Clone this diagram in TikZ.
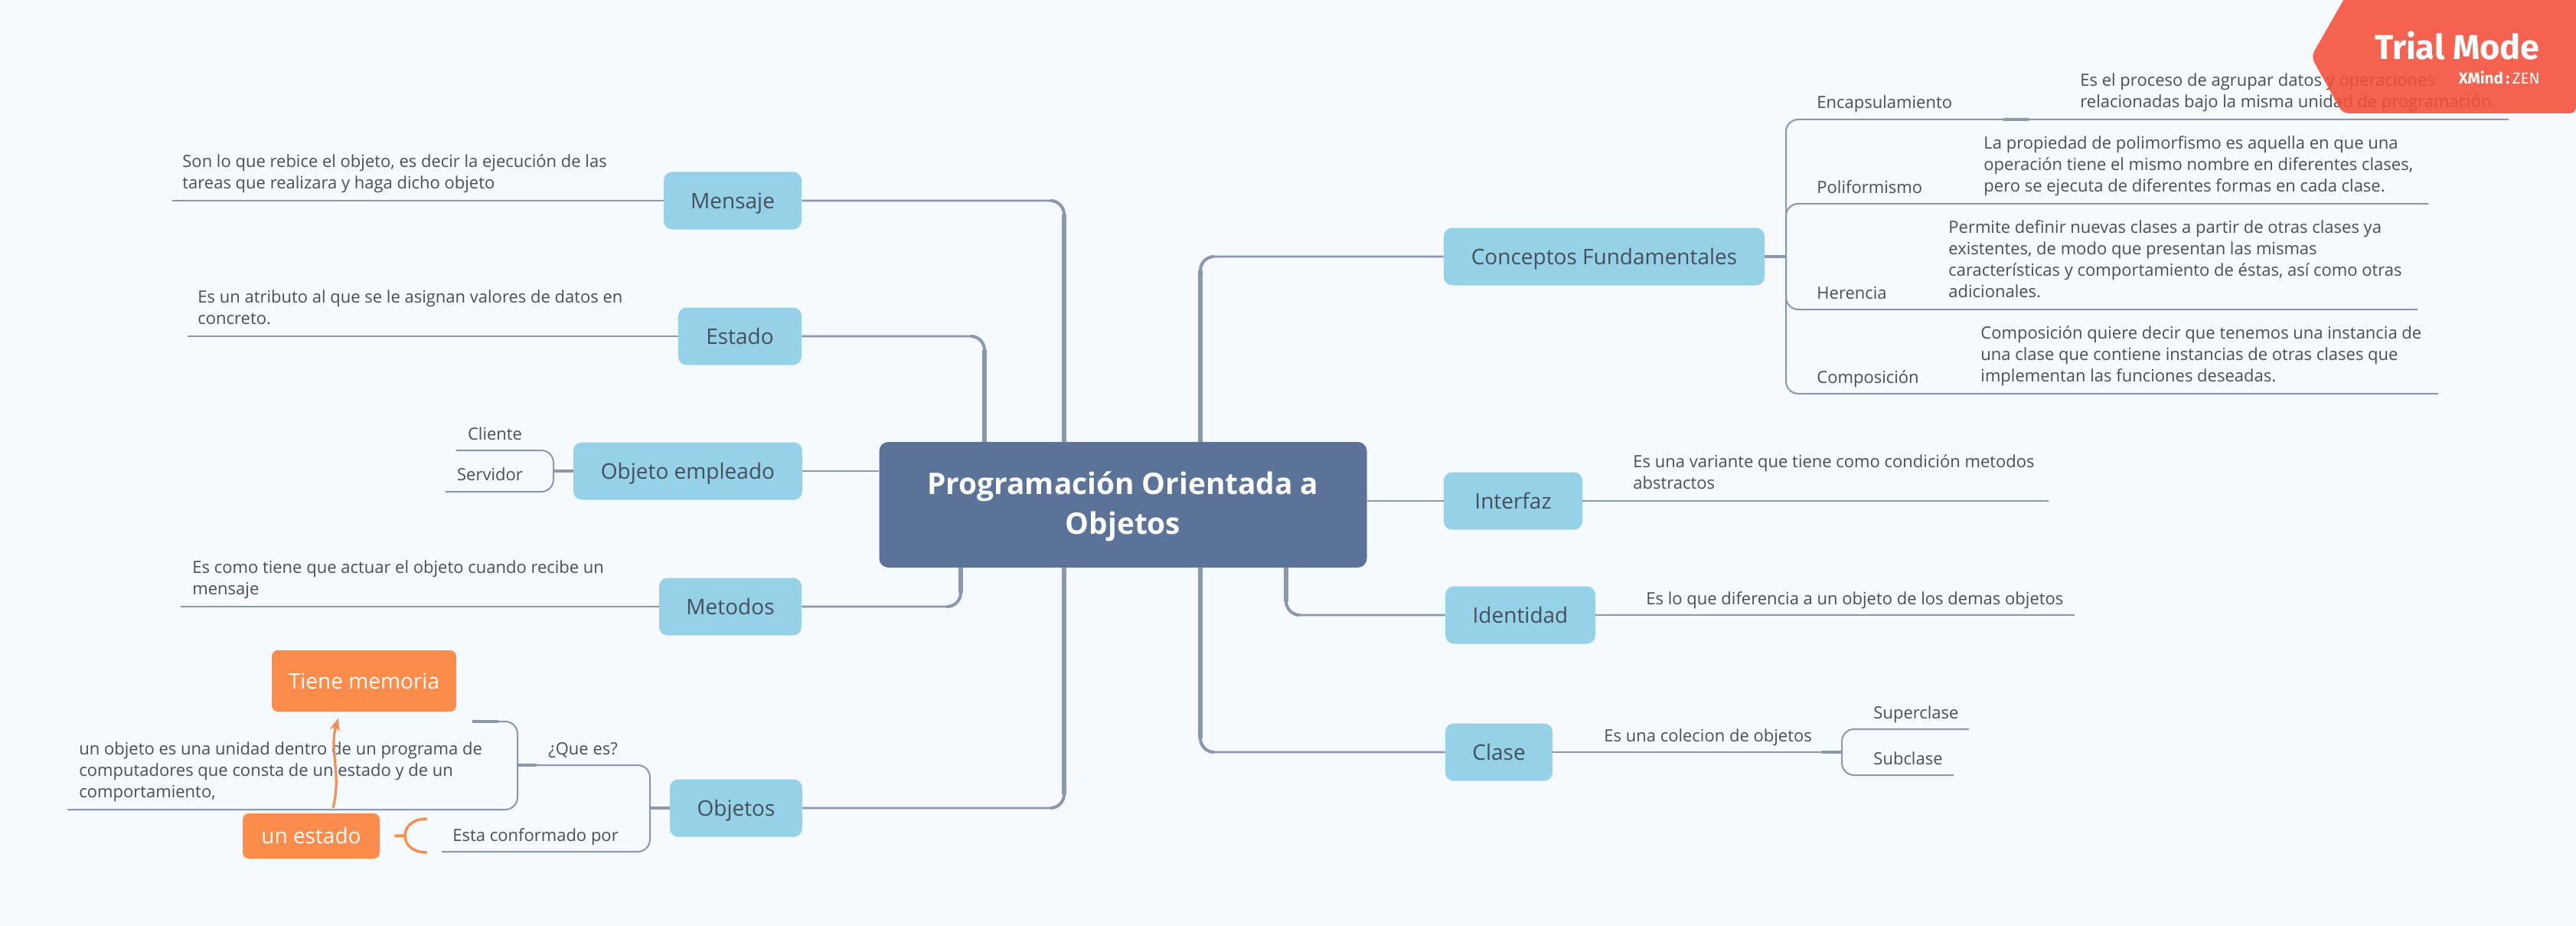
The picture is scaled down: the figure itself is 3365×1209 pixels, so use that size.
\documentclass[tikz,border=0pt]{standalone}
\usepackage{fontspec}
\setmainfont{Open Sans}
\newfontfamily\badgefont{Fira Sans}
\usetikzlibrary{arrows.meta,calc,positioning,shapes.geometric}
\definecolor{bgcol}{HTML}{F5FAFF}
\definecolor{rootcol}{HTML}{5B7299}
\definecolor{topiccol}{HTML}{95D2E8}
\definecolor{linecol}{HTML}{8A97AE}
\definecolor{inkcol}{HTML}{474E5C}
\definecolor{notecol}{HTML}{FB8C4C}
\definecolor{badgecol}{HTML}{F54E37}

\begin{document}
\begin{tikzpicture}[
    x=.5pt,y=-.5pt,
    root/.style={fill=rootcol,text=white,rounded corners=6pt,align=center,inner sep=0pt,font=\bfseries\fontsize{19.4}{26.3}\selectfont},
    topic/.style={fill=topiccol,text=inkcol,rounded corners=5.5pt,inner sep=0pt,minimum height=37.5pt,text height=10pt,text depth=0pt,font=\fontsize{14}{18}\selectfont},
    note/.style={fill=notecol,text=white,rounded corners=4pt,inner sep=0pt,text height=10pt,text depth=0pt,font=\fontsize{14}{18}\selectfont},
    txt/.style={text=inkcol,align=left,inner sep=0pt,anchor=west,font=\fontsize{11}{14}\selectfont,execute at begin node=\strut,execute at end node=\strut},
    link/.style={draw=linecol,line width=1.4pt},
    elbow/.style={draw=linecol,line width=2pt,rounded corners=9pt},
    trunk/.style={draw=linecol,line width=2.7pt},
    sub/.style={draw=linecol,line width=1pt,rounded corners=8pt},
    stub/.style={draw=linecol,line width=1.7pt},
    rel/.style={draw=notecol,line width=1.6pt,-{Stealth[length=8.5pt,width=6.5pt]}}
  ]
    \fill[bgcol] (0,0) rectangle (3365,1209);
    \useasboundingbox (0,0) rectangle (3365,1209);

    \node[root,minimum width=318.5pt,minimum height=82pt] (prog) at (1467,659) {\rule{0pt}{17pt}Programación Orientada a\\Objetos\rule[-4pt]{0pt}{4pt}};

    % left side
    \node[topic,minimum width=90pt] (mensaje) at (957,262) {Mensaje};
    \node[topic,minimum width=80.5pt] (estado) at (966.5,439) {Estado};
    \node[topic,minimum width=149.5pt] (empleado) at (898.5,615) {Objeto empleado};
    \node[topic,minimum width=93pt] (metodos) at (954,792) {Metodos};
    \node[topic,minimum width=86.5pt] (objetos) at (961.5,1055) {Objetos};

    % right side
    \node[topic,minimum width=209.5pt] (conceptos) at (2095.5,335) {Conceptos Fundamentales};
    \node[topic,minimum width=90.5pt] (interfaz) at (1976.5,654) {Interfaz};
    \node[topic,minimum width=98pt] (identidad) at (1986,803) {Identidad};
    \node[topic,minimum width=70pt] (clase) at (1958,982) {Clase};

    % lines into the root, heavier where they drop onto it
    \foreach \n/\e/\x/\y in {mensaje/east/1390/577,estado/east/1286/577,metodos/east/1255/741,objetos/east/1390/741,conceptos/west/1568/577,identidad/west/1680/741,clase/west/1568/741} {
      \coordinate (t\n) at (\x,\y);
      \draw[link,rounded corners=9pt] (\n.\e) -| (t\n);
      \draw[elbow] ($(\n.\e -| t\n)!9pt!(\n.\e)$) -| (t\n);
      \draw[trunk,shorten >=9pt] (t\n) -- (\n.\e -| t\n);
    }
    \draw[link] (empleado.east) -- (prog.west |- empleado);
    \draw[link] (interfaz.west) -- (prog.east |- interfaz);

    % underlined texts
    \coordinate (mensajeend) at (225,262);
    \coordinate (estadoend) at (245,439);
    \coordinate (metodosend) at (236,792);
    \coordinate (interfazend) at (2676,654);
    \coordinate (identidadend) at (2710,803);
    \draw[sub] (mensaje.west) -- (mensajeend);
    \draw[sub] (estado.west) -- (estadoend);
    \draw[sub] (metodos.west) -- (metodosend);
    \draw[sub] (interfaz.east) -- (interfazend);
    \draw[sub] (identidad.east) -- (identidadend);
    \node[txt] (tmen) at (238,228.4) {Son lo que rebice el objeto, es decir la ejecución de las\\tareas que realizara y haga dicho objeto};
    \node[txt] (test) at (258,405.4) {Es un atributo al que se le asignan valores de datos en\\concreto.};
    \node[txt] (tmet) at (251,758.4) {Es como tiene que actuar el objeto cuando recibe un\\mensaje};
    \node[txt] (tint) at (2133,620.4) {Es una variante que tiene como condición metodos\\abstractos};
    \node[txt] (tide) at (2150,783.4) {Es lo que diferencia a un objeto de los demas objetos};

    % objeto empleado
    \node[txt] (cliente) at (610.7,568.4) {Cliente};
    \node[txt] (servidor) at (596.7,622) {Servidor};
    \coordinate (clienteend) at (596,588);
    \coordinate (servidorend) at (582,642);
    \coordinate (empfork) at (723,615);
    \draw[sub] (clienteend) -| (empfork);
    \draw[sub] (servidorend) -| (empfork);
    \draw[stub] (empleado.west) -- (empfork);

    % objetos
    \node[txt] (quees) at (716,979.4) {¿Que es?};
    \node[txt] (esta) at (591,1092.4) {Esta conformado por};
    \node[txt] (defobj) at (103,1009.4) {un objeto es una unidad dentro de un programa de\\computadores que consta de un estado y de un\\comportamiento,};
    \coordinate (objfork) at (849,1055);
    \coordinate (queesend) at (676,999);
    \coordinate (estaend) at (577,1112);
    \coordinate (deftop) at (617,942);
    \coordinate (defend) at (88,1057);
    \draw[sub] (queesend) -| (objfork);
    \draw[sub] (estaend) -| (objfork);
    \draw[stub] (objetos.west) -- (objfork);
    \draw[sub] (deftop) -| (queesend);
    \draw[sub] (defend) -| (queesend);
    \draw[stub] (queesend) -- ++(25,0);
    \draw[stub] (deftop) -- ++(34,0);

    \node[note,minimum width=120.5pt,minimum height=40pt] (memoria) at (475.5,889) {Tiene memoria};
    \node[note,minimum width=89.5pt,minimum height=29.5pt] (unestado) at (406.5,1091.5) {un estado};
    \coordinate (brtop) at (558,1069);
    \coordinate (brbot) at (558,1113);
    \coordinate (brmid) at (529,1091);
    \draw[draw=notecol,line width=1.7pt] (brtop) .. controls (538,1069) and (529,1080) .. (brmid) .. controls (529,1102) and (538,1113) .. (brbot);
    \draw[draw=notecol,line width=1.9pt] (unestado.east) ++(19,0) -- (brmid);
    \draw[rel] ([xshift=14.25pt,yshift=3.5pt]unestado.north) .. controls ([xshift=20pt,yshift=26pt]unestado.north) and ([xshift=-23pt,yshift=-25pt]memoria.south) .. ([xshift=-16.75pt,yshift=-4pt]memoria.south);

    % conceptos fundamentales
    \coordinate (cfork) at (2333,335);
    \coordinate (encend) at (3277,156);
    \coordinate (polend) at (3172,266);
    \coordinate (herend) at (3158,404);
    \coordinate (comend) at (3185,514);
    \draw[sub] (encend) -| (cfork);
    \draw[sub] (polend) -| (cfork);
    \draw[sub] (herend) -| (cfork);
    \draw[sub] (comend) -| (cfork);
    \draw[stub] (conceptos.east) -- (cfork);
    \draw[stub] (2617,156) -- (2650,156);

    \node[txt] (enc) at (2373,136.4) {Encapsulamiento};
    \node[txt] (pol) at (2373,246.4) {Poliformismo};
    \node[txt] (her) at (2373,384.4) {Herencia};
    \node[txt] (com) at (2373,494.4) {Composición};
    \node[txt] (tenc) at (2717,122.4) {Es el proceso de agrupar datos y operaciones\\relacionadas bajo la misma unidad de programación.};
    \node[txt] (tpol) at (2591,218.4) {La propiedad de polimorfismo es aquella en que una\\operación tiene el mismo nombre en diferentes clases,\\pero se ejecuta de diferentes formas en cada clase.};
    \node[txt] (ther) at (2545,342.4) {Permite definir nuevas clases a partir de otras clases ya\\existentes, de modo que presentan las mismas\\características y comportamiento de éstas, así como otras\\adicionales.};
    \node[txt] (tcom) at (2587,466.4) {Composición quiere decir que tenemos una instancia de\\una clase que contiene instancias de otras clases que\\implementan las funciones deseadas.};

    % clase
    \coordinate (clfork) at (2406,982);
    \coordinate (supend) at (2572,952);
    \coordinate (subend) at (2552,1012);
    \draw[sub] (clase.east) -- (clfork);
    \draw[sub] (supend) -| (clfork);
    \draw[sub] (subend) -| (clfork);
    \draw[stub] (2380,982) -- (clfork);
    \node[txt] (tcla) at (2095,962.4) {Es una colecion de objetos};
    \node[txt] (sup) at (2447,932.4) {Superclase};
    \node[txt] (sub) at (2447,992.4) {Subclase};

    % badge lies over the text
    \fill[badgecol,opacity=.88,rounded corners=4pt] (3067,-10) -- (3019,74) -- (3060,148) -- (3365,148) -- (3365,-10) -- cycle;
    \node[anchor=base east,inner sep=0pt,text=white,font=\badgefont\bfseries\fontsize{22.5}{28}\selectfont] (trial) at (3318,78) {Trial Mode};
    \node[anchor=base east,inner sep=0pt,text=white,font=\badgefont\fontsize{10.3}{12}\selectfont] (zen) at (3318,110) {\textbf{XMind}\,\textbf{:}\,ZEN};
  \end{tikzpicture}
\end{document}
